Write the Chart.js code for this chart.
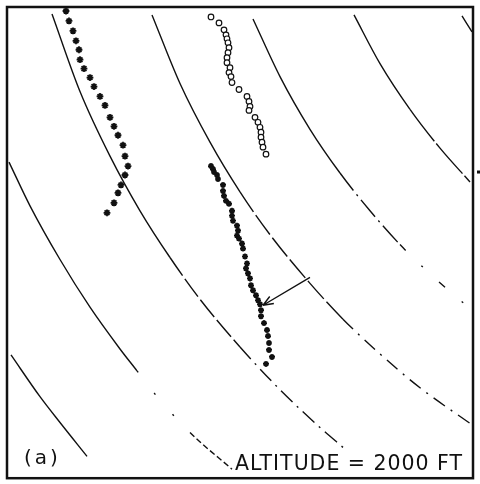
<!DOCTYPE html>
<html>
<head>
<meta charset="utf-8">
<script src="https://cdn.jsdelivr.net/npm/chart.js@4/dist/chart.umd.min.js"></script>
<style>
  html, body { margin: 0; padding: 0; background: #fff; }
  canvas { display: block; }
</style>
</head>
<body>
<canvas id="altChart" width="480" height="484"></canvas>
<script>
// range rings (constant-altitude contours), x / y in plot units
const ringG_x = [455, 465];
const ringG_y = [465, 449];
const ringF_x = [347, 373, 403, 433, 463];
const ringF_y = [466, 417, 371, 332, 298];
const ringE_x = [246, 273, 303, 333, 363, 393, 428, 466];
const ringE_y = [462, 404, 351, 307, 269, 235, 201, 168];
const ringD_x = [145, 173, 203, 233, 263, 303, 336, 373, 413, 466];
const ringD_y = [466, 397, 338, 288, 245, 196, 160, 125, 91, 53];
const ringA_x = [45, 73, 103, 133, 163, 193, 233, 273, 313, 336];
const ringA_y = [467, 389, 324, 269, 222, 180, 132, 89, 51, 31];
const ringB_x = [2, 23, 53, 83, 113, 130, 146, 183, 225];
const ringB_y = [318, 274, 220, 172, 130, 108, 87, 46, 9];
const ringC_x = [4, 33, 53, 80];
const ringC_y = [124, 82, 56, 22];

// aircraft tracks
const westTrack_x = [59, 62, 66, 69, 72, 73, 77, 83, 87, 93, 98, 103, 107, 111, 116, 118, 121, 118, 114, 111, 107, 100];
const westTrack_y = [470, 460, 450, 440, 431, 421, 412, 403, 394, 384, 375, 363, 354, 345, 335, 324, 314, 305, 295, 287, 277, 267];
const northTrack_x = [204, 212, 217, 219, 220, 221, 222, 221, 220, 220, 223, 222, 224, 225, 232, 240, 242, 243, 242, 248, 251, 253, 254, 254, 255, 256, 259];
const northTrack_y = [464, 458, 451, 446, 442, 438, 433, 428, 423, 418, 413, 408, 404, 398, 391, 384, 379, 374, 370, 363, 358, 353, 348, 343, 338, 333, 326];
const southTrack_x = [204, 206, 207, 210, 211, 216, 216, 217, 219, 222, 225, 225, 226, 230, 231, 230, 232, 235, 236, 238, 240, 239, 241, 243, 244, 246, 249, 251, 253, 254, 254, 257, 260, 261, 262, 262, 265, 259];
const southTrack_y = [314, 311, 308, 305, 301, 295, 289, 284, 279, 276, 269, 264, 259, 254, 249, 244, 241, 236, 231, 223, 216, 211, 206, 201, 194, 189, 184, 179, 175, 169, 163, 156, 149, 143, 136, 129, 122, 115];

// arrow: tail -> head
const arrowFrom = [303, 202];
const arrowTo = [256, 174];
const edgeTickY = 308;

const panelLabel = '(a)';
const altitudeLabel = 'ALTITUDE = 2000 FT';

const INK = '#111';

function pts(xs, ys) {
  return xs.map((x, i) => ({ x: x, y: ys[i] }));
}

// solid up to `from`, then the given dash pattern
function dashAfter(from, pattern, from2, pattern2) {
  return {
    borderDash: ctx => {
      const x0 = ctx.p0.parsed.x;
      if (from2 !== undefined && x0 >= from2) return pattern2;
      if (x0 >= from) return pattern;
      return [];
    }
  };
}

function ring(xs, ys, segment) {
  return {
    data: pts(xs, ys),
    showLine: true,
    borderColor: INK,
    borderWidth: 1.4,
    pointRadius: 0,
    cubicInterpolationMode: 'monotone',
    segment: segment
  };
}

function track(xs, ys, style, radius, bw) {
  return {
    data: pts(xs, ys),
    showLine: false,
    pointStyle: style,
    pointRadius: radius,
    pointBorderWidth: bw,
    pointBorderColor: INK,
    pointBackgroundColor: style === 'circle' ? '#fff' : INK
  };
}

const overlay = {
  id: 'overlay',
  afterDatasetsDraw(chart) {
    const { ctx, chartArea: a, scales: { x, y } } = chart;
    ctx.save();
    ctx.strokeStyle = INK;
    ctx.fillStyle = INK;

    // arrow
    const x0 = x.getPixelForValue(arrowFrom[0]), y0 = y.getPixelForValue(arrowFrom[1]);
    const x1 = x.getPixelForValue(arrowTo[0]), y1 = y.getPixelForValue(arrowTo[1]);
    ctx.lineWidth = 1.4;
    ctx.beginPath();
    ctx.moveTo(x0, y0);
    ctx.lineTo(x1, y1);
    const ang = Math.atan2(y1 - y0, x1 - x0);
    const len = 11, spread = 0.38;
    ctx.moveTo(x1, y1);
    ctx.lineTo(x1 - len * Math.cos(ang - spread), y1 - len * Math.sin(ang - spread));
    ctx.moveTo(x1, y1);
    ctx.lineTo(x1 - len * Math.cos(ang + spread), y1 - len * Math.sin(ang + spread));
    ctx.stroke();

    // frame
    ctx.lineWidth = 2.5;
    ctx.strokeRect(a.left, a.top, a.right - a.left, a.bottom - a.top);
    const ty = y.getPixelForValue(edgeTickY);
    ctx.fillRect(a.right + 4, ty - 1.5, 3, 3);

    // labels
    ctx.textBaseline = 'alphabetic';
    ctx.textAlign = 'left';
    ctx.font = '20px "DejaVu Sans"';
    ctx.letterSpacing = '3px';
    ctx.fillText(panelLabel, a.left + 17, a.bottom - 14);
    ctx.font = '21px "DejaVu Sans"';
    ctx.letterSpacing = '1px';
    ctx.fillText(altitudeLabel, 235, a.bottom - 8, 228);
    ctx.restore();
  }
};

new Chart(document.getElementById('altChart'), {
  type: 'scatter',
  data: {
    datasets: [
      ring(ringG_x, ringG_y),
      ring(ringF_x, ringF_y, dashAfter(400, [40, 3])),
      ring(ringE_x, ringE_y, dashAfter(333, [22, 5, 2, 5], 380, [8, 22, 2, 22])),
      ring(ringD_x, ringD_y, dashAfter(233, [24, 4], 336, [14, 7, 2, 7])),
      ring(ringA_x, ringA_y, dashAfter(150, [22, 4], 233, [16, 6, 2, 6])),
      ring(ringB_x, ringB_y, dashAfter(130, [2, 26], 183, [6, 3])),
      ring(ringC_x, ringC_y),
      track(westTrack_x, westTrack_y, 'star', 3.4, 1.8),
      track(northTrack_x, northTrack_y, 'circle', 2.8, 1.2),
      track(southTrack_x, southTrack_y, 'star', 3, 1.7)
    ]
  },
  options: {
    responsive: false,
    animation: false,
    layout: { padding: { left: 7, top: 7, right: 7, bottom: 3 } },
    plugins: {
      legend: { display: false },
      tooltip: { enabled: false }
    },
    scales: {
      x: { type: 'linear', min: 0, max: 466, display: false },
      y: { type: 'linear', min: 0, max: 474, display: false }
    }
  },
  plugins: [overlay]
});
</script>
</body>
</html>
